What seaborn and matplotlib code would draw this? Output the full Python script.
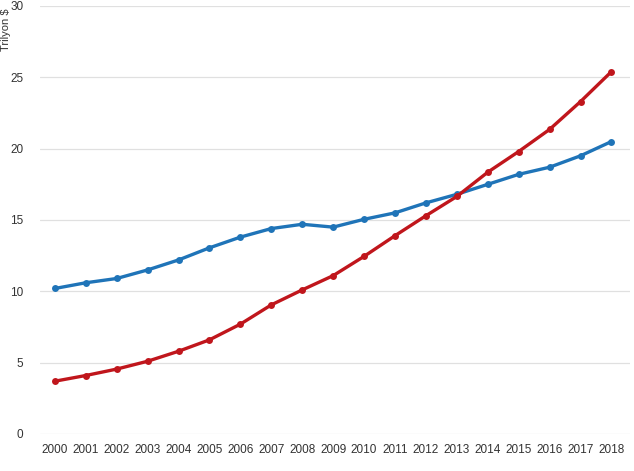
import numpy as np
import pandas as pd
import matplotlib
matplotlib.use("Agg")
import matplotlib.pyplot as plt
import seaborn as sns

years = [str(y) for y in range(2000, 2019)]
abd = [10.2, 10.6, 10.9, 11.5, 12.2, 13.05, 13.8, 14.4, 14.7, 14.5,
       15.05, 15.5, 16.2, 16.8, 17.5, 18.2, 18.7, 19.5, 20.5]
cin = [3.7, 4.1, 4.55, 5.1, 5.8, 6.6, 7.7, 9.05, 10.1, 11.1,
       12.45, 13.9, 15.3, 16.65, 18.35, 19.8, 21.35, 23.3, 25.4]
y_ticks = [0, 5, 10, 15, 20, 25, 30]

df = pd.DataFrame({
    "yil": years * 2,
    "deger": abd + cin,
    "ulke": ["ABD"] * len(years) + ["Çin"] * len(years),
})

sns.set_theme(style="white")
plt.rcParams["font.family"] = ["Liberation Sans", "DejaVu Sans"]

fig = plt.figure(figsize=(6.34, 4.71), dpi=100)
ax = fig.add_axes([40 / 634, 37 / 471, 590 / 634, 428 / 471])

sns.lineplot(data=df, x="yil", y="deger", hue="ulke",
             palette={"ABD": "#1f74b8", "Çin": "#c0161c"},
             marker="o", markersize=5, markeredgewidth=0,
             linewidth=2.4, sort=False, legend=False, ax=ax)

ax.set_ylim(0, 30)
ax.set_xlim(-0.48, 18.6)
ax.set_yticks(y_ticks)
ax.yaxis.grid(True, color="#e0e0e0", linewidth=0.9)
ax.set_axisbelow(True)
for s in ax.spines.values():
    s.set_visible(False)
ax.tick_params(axis="both", length=0, labelsize=8.5, colors="#333333")
ax.tick_params(axis="y", pad=12)
ax.tick_params(axis="x", pad=7)
ax.set_xlabel("")
ax.set_ylabel("")
fig.text(1 / 634, 1 - 30 / 471, "Trilyon $", rotation=90, ha="left",
         va="center", fontsize=8, color="#333333")

fig.savefig("out.png", dpi=100)
